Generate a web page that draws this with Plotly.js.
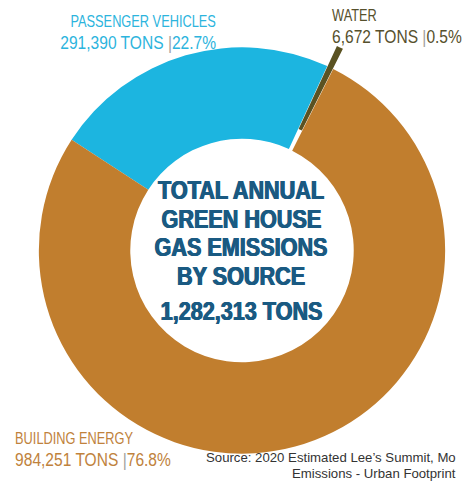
<!DOCTYPE html>
<html>
<head>
<meta charset="utf-8">
<script src="https://cdn.plot.ly/plotly-3.0.1.min.js"></script>
<style>
html,body{margin:0;padding:0;background:#fff;overflow:hidden;width:462px;height:491px;}
#chart{width:484px;height:491px;}
</style>
</head>
<body>
<div id="chart"></div>
<script>
var categories = ["PASSENGER VEHICLES", "WATER", "BUILDING ENERGY"];
var tons = [291390, 6672, 984251];
var tonLabels = ["291,390 TONS", "6,672 TONS", "984,251 TONS"];
var shareLabels = ["22.7%", "0.5%", "76.8%"];
var totalLabel = "1,282,313 TONS";
var titleLines = ["TOTAL ANNUAL", "GREEN HOUSE", "GAS EMISSIONS", "BY SOURCE"];
var sourceLines = ["Source: 2020 Estimated Lee\u2019s Summit, Mo", "Emissions - Urban Footprint"];

var sliceColors = ["#1cb5e0", "#5a5222", "#c17e2e"];
var labelColors = ["#2cb4dd", "#56502c", "#c0823c"];

var W = 484, H = 491;
function px(x){ return x / W; }
function py(y){ return (H - y) / H; }

var sans = "'Liberation Sans', Arial, sans-serif";

var annotations = [];
var squeeze = [];   // horizontal condensing per annotation (visual match of condensed face)
function addAnn(a, s){ annotations.push(a); squeeze.push({s: s, anchor: a.xanchor}); }

// Slice labels
var labelPos = [
  {x: 218, y1: 21.5, y2: 42, anchor: "right"},
  {x: 330, y1: 15, y2: 36, anchor: "left"},
  {x: 13,  y1: 438, y2: 459, anchor: "left"}
];
for (var i = 0; i < categories.length; i++) {
  var p = labelPos[i];
  addAnn({
    text: categories[i], x: px(p.x), y: py(p.y1), xref: "paper", yref: "paper",
    xanchor: p.anchor, yanchor: "middle", showarrow: false,
    font: {family: sans, size: 16, color: labelColors[i]}
  }, 0.8);
  addAnn({
    text: tonLabels[i] + " <span style='color:#a0a0a0'>|</span>" + shareLabels[i],
    x: px(p.x), y: py(p.y2), xref: "paper", yref: "paper",
    xanchor: p.anchor, yanchor: "middle", showarrow: false,
    font: {family: sans, size: 19, color: labelColors[i]}
  }, 0.82);
}
// Center title
var titleColor = "#1a5a82";
var heavy = "0.6px 0 0 " + titleColor + ", -0.6px 0 0 " + titleColor;
var titleY = [190, 219, 247, 276];
for (var j = 0; j < titleLines.length; j++) {
  addAnn({
    text: "<b>" + titleLines[j] + "</b>", x: px(241), y: py(titleY[j]),
    xref: "paper", yref: "paper", xanchor: "center", yanchor: "middle", showarrow: false,
    font: {family: sans, size: 25, color: titleColor, shadow: heavy}
  }, 0.865);
}
addAnn({
  text: "<b>" + totalLabel + "</b>", x: px(241), y: py(311),
  xref: "paper", yref: "paper", xanchor: "center", yanchor: "middle", showarrow: false,
  font: {family: sans, size: 25, color: titleColor, shadow: heavy}
}, 0.865);
// Source
addAnn({
  text: sourceLines[0], x: px(458), y: py(457.5), xref: "paper", yref: "paper",
  xanchor: "right", yanchor: "middle", showarrow: false,
  font: {family: sans, size: 13.2, color: "#333333"}
}, 1);
addAnn({
  text: sourceLines[1], x: px(458), y: py(473), xref: "paper", yref: "paper",
  xanchor: "right", yanchor: "middle", showarrow: false,
  font: {family: sans, size: 13.2, color: "#333333"}
}, 1);

var trace = {
  type: "pie",
  labels: categories,
  values: tons,
  sort: false,
  direction: "clockwise",
  rotation: -57,
  hole: 0.55,
  pull: [0, 0.11, 0],
  textinfo: "none",
  hoverinfo: "none",
  marker: {colors: sliceColors, line: {width: 0}},
  domain: {x: [0, 1], y: [py(476), py(25)]}
};

var layout = {
  width: W, height: H,
  margin: {l: 0, r: 0, t: 0, b: 0},
  showlegend: false,
  paper_bgcolor: "#ffffff",
  annotations: annotations
};

Plotly.newPlot("chart", [trace], layout, {displayModeBar: false, staticPlot: true}).then(function(gd){
  var groups = gd.querySelectorAll("g.annotation");
  groups.forEach(function(g){
    var idx = +g.getAttribute("data-index");
    var sq = squeeze[idx];
    if (!sq || sq.s === 1) return;
    var t = g.querySelector("text.annotation-text");
    if (!t) return;
    var origin = sq.anchor === "right" ? "right center" : (sq.anchor === "left" ? "left center" : "center center");
    t.style.transformBox = "fill-box";
    t.style.transformOrigin = origin;
    t.style.transform = "scaleX(" + sq.s + ")";
  });
});
</script>
</body>
</html>
